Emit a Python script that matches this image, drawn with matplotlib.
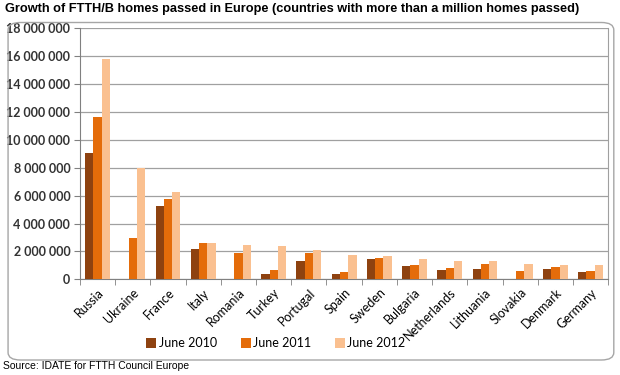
import matplotlib.pyplot as plt
import numpy as np
from matplotlib.patches import FancyBboxPatch
from matplotlib.ticker import FuncFormatter, MultipleLocator

countries = ["Russia", "Ukraine", "France", "Italy", "Romania", "Turkey", "Portugal", "Spain",
             "Sweden", "Bulgaria", "Netherlands", "Lithuania", "Slovakia", "Denmark", "Germany"]
june_2010 = [9080000, 0, 5280000, 2190000, 0, 360000, 1290000, 360000,
             1430000, 930000, 650000, 760000, 0, 760000, 520000]
june_2011 = [11660000, 2940000, 5740000, 2600000, 1900000, 670000, 1890000, 520000,
             1550000, 1030000, 810000, 1120000, 620000, 880000, 600000]
june_2012 = [15780000, 8000000, 6240000, 2600000, 2460000, 2370000, 2120000, 1720000,
             1650000, 1480000, 1330000, 1290000, 1070000, 1000000, 1000000]
series_names = ["June 2010", "June 2011", "June 2012"]
colors = ["#8E4210", "#E46C0A", "#FAC090"]

plt.rcParams["font.family"] = ["Lato", "DejaVu Sans"]

fig = plt.figure(figsize=(6.2, 3.75), dpi=100)
fig.patch.set_facecolor("white")

# rounded frame around the chart
frame = FancyBboxPatch((0.013, 0.04), 0.977, 0.9, boxstyle="round,pad=0,rounding_size=0.02",
                       transform=fig.transFigure, facecolor="none", edgecolor="#A6A6A6", lw=1.0)
fig.patches.append(frame)

ax = fig.add_axes([0.129, 0.255, 0.852, 0.67])
x = np.arange(len(countries))
w = 0.235
for i, (vals, name) in enumerate(zip([june_2010, june_2011, june_2012], series_names)):
    ax.bar(x + (i - 1) * w, vals, w, color=colors[i], label=name, zorder=3)

ax.set_xlim(-0.5, len(countries) - 0.5)
ax.set_ylim(0, 18000000)
ax.yaxis.set_major_locator(MultipleLocator(2000000))
ax.yaxis.set_major_formatter(FuncFormatter(lambda v, p: f"{int(v):,}".replace(",", " ")))
ax.grid(True, axis="y", color="#A0A0A0", lw=0.9, zorder=0)

ax.set_xticks(x)
ax.set_xticklabels(countries, rotation=45, ha="right", rotation_mode="anchor", fontsize=9)
ax.tick_params(axis="x", length=0, pad=5)
ax.set_xticks(np.arange(-0.5, len(countries), 1), minor=True)
ax.tick_params(axis="x", which="minor", length=4, color="#808080")
ax.tick_params(axis="y", length=4, color="#808080", labelsize=9, pad=3)
for lab in ax.get_yticklabels():
    lab.set_fontweight("bold")
    lab.set_color("#333333")

ax.spines["top"].set_visible(False)
ax.spines["right"].set_color("#A0A0A0")
ax.spines["left"].set_color("#808080")
ax.spines["bottom"].set_color("#808080")

fig.legend(loc="center", bbox_to_anchor=(0.445, 0.085), ncol=3, frameon=False,
           fontsize=9, handlelength=0.8, handleheight=0.8, handletextpad=0.2, columnspacing=1.9)

fig.text(0.008, 0.975, "Growth of FTTH/B homes passed in Europe (countries with more than a million homes passed)",
         fontsize=9.2, fontweight="bold", family="Liberation Sans", va="center", ha="left")
fig.text(0.005, 0.025, "Source: IDATE for FTTH Council Europe", fontsize=7.5,
         family="Liberation Sans", va="center", ha="left")

fig.savefig("out.png", dpi=100)
